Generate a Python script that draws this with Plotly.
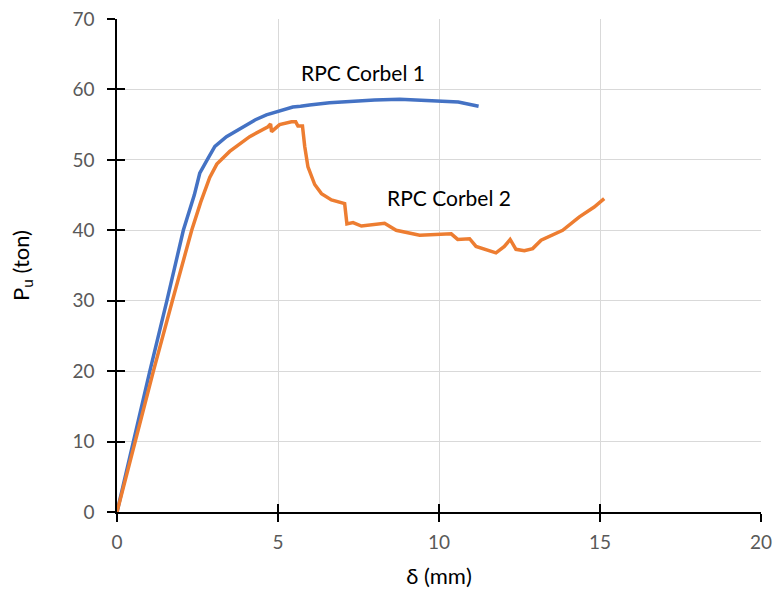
import plotly.graph_objects as go

# Corbel 1 (blue)
x1 = [0, 0.5, 1.02, 1.55, 2.06, 2.4, 2.57, 2.8, 3.04, 3.4, 3.91, 4.3, 4.64, 5.1, 5.46, 5.7, 5.98, 6.6, 7.4, 8.0, 8.78, 9.4, 10.0, 10.6, 11.23]
y1 = [0, 10, 20, 30, 40, 45, 48.1, 50.0, 51.9, 53.3, 54.7, 55.7, 56.4, 57.0, 57.5, 57.6, 57.8, 58.1, 58.4, 58.5, 58.6, 58.5, 58.4, 58.2, 57.6]

# Corbel 2 (orange)
x2 = [0, 0.56, 1.13, 1.72, 2.32, 2.6, 2.88, 3.1, 3.5, 4.12, 4.69, 4.77, 4.8, 5.05, 5.42, 5.55, 5.62, 5.76, 5.83, 5.93, 6.14, 6.35, 6.66, 7.07,
      7.14, 7.33, 7.59, 8.31, 8.67, 9.40, 9.91, 10.38, 10.58, 10.95, 11.15, 11.77, 12.03, 12.21, 12.39, 12.65, 12.91, 13.17, 13.84, 14.36, 14.82, 15.13]
y2 = [0, 10, 20, 30, 40, 44.0, 47.5, 49.4, 51.2, 53.3, 54.7, 55.1, 54.0, 55.0, 55.4, 55.4, 54.8, 54.8, 51.9, 49.0, 46.5, 45.2, 44.3, 43.8,
      40.9, 41.1, 40.6, 41.0, 40.0, 39.3, 39.4, 39.5, 38.7, 38.8, 37.7, 36.8, 37.7, 38.7, 37.3, 37.1, 37.4, 38.6, 40.0, 41.9, 43.3, 44.5]

x_ticks = [0, 5, 10, 15, 20]
y_ticks = [0, 10, 20, 30, 40, 50, 60, 70]

labels = ["RPC Corbel 1", "RPC Corbel 2"]
label_x = [7.63, 10.3]
label_y = [62.4, 44.6]

BLUE = "#4472C4"
ORANGE = "#ED7D31"
FONT = "Lato"

fig = go.Figure()
fig.add_trace(go.Scatter(x=x1, y=y1, mode="lines", line=dict(color=BLUE, width=3.5), name=labels[0]))
fig.add_trace(go.Scatter(x=x2, y=y2, mode="lines", line=dict(color=ORANGE, width=3.5), name=labels[1]))

for t, lx, ly in zip(labels, label_x, label_y):
    fig.add_annotation(x=lx, y=ly, text=t, showarrow=False, font=dict(family=FONT, size=21, color="black"))

axis_common = dict(showline=True, linecolor="black", linewidth=1.5, ticks="outside", ticklen=8,
                   tickcolor="black", tickwidth=1.5, zeroline=False, automargin=False,
                   ticklabeloverflow="allow",
                   showgrid=True, gridcolor="#D9D9D9", gridwidth=1,
                   tickfont=dict(family=FONT, size=19, color="#595959"))

fig.update_layout(
    width=773, height=590,
    margin=dict(l=117, r=12, t=19, b=78),
    paper_bgcolor="white", plot_bgcolor="white",
    showlegend=False,
    xaxis=dict(range=[0, 20], tickvals=x_ticks, ticklabelstandoff=4, **axis_common,
               title=dict(text="δ (mm)", font=dict(family=FONT, size=22, color="black"), standoff=17)),
    yaxis=dict(range=[0, 70], tickvals=y_ticks, ticklabelstandoff=9, **axis_common,
               title=dict(text="P<sub>u</sub> (ton)", font=dict(family=FONT, size=22, color="black"), standoff=37)),
    xaxis2=dict(range=[0, 20], tickvals=x_ticks, overlaying="x", side="bottom", anchor="y",
                ticks="inside", ticklen=8, tickcolor="black", tickwidth=1.5, automargin=False,
                showticklabels=False, showgrid=False, showline=False, zeroline=False),
    yaxis2=dict(range=[0, 70], tickvals=y_ticks, overlaying="y", side="left", anchor="x",
                ticks="inside", ticklen=8, tickcolor="black", tickwidth=1.5, automargin=False,
                showticklabels=False, showgrid=False, showline=False, zeroline=False),
)
# invisible trace to activate the secondary axes
fig.add_trace(go.Scatter(x=[None], y=[None], xaxis="x2", yaxis="y2", showlegend=False, hoverinfo="skip"))

fig.write_html("out.html", config={"displayModeBar": False},
               post_script="document.body.style.margin='0';document.body.style.overflow='hidden';")
